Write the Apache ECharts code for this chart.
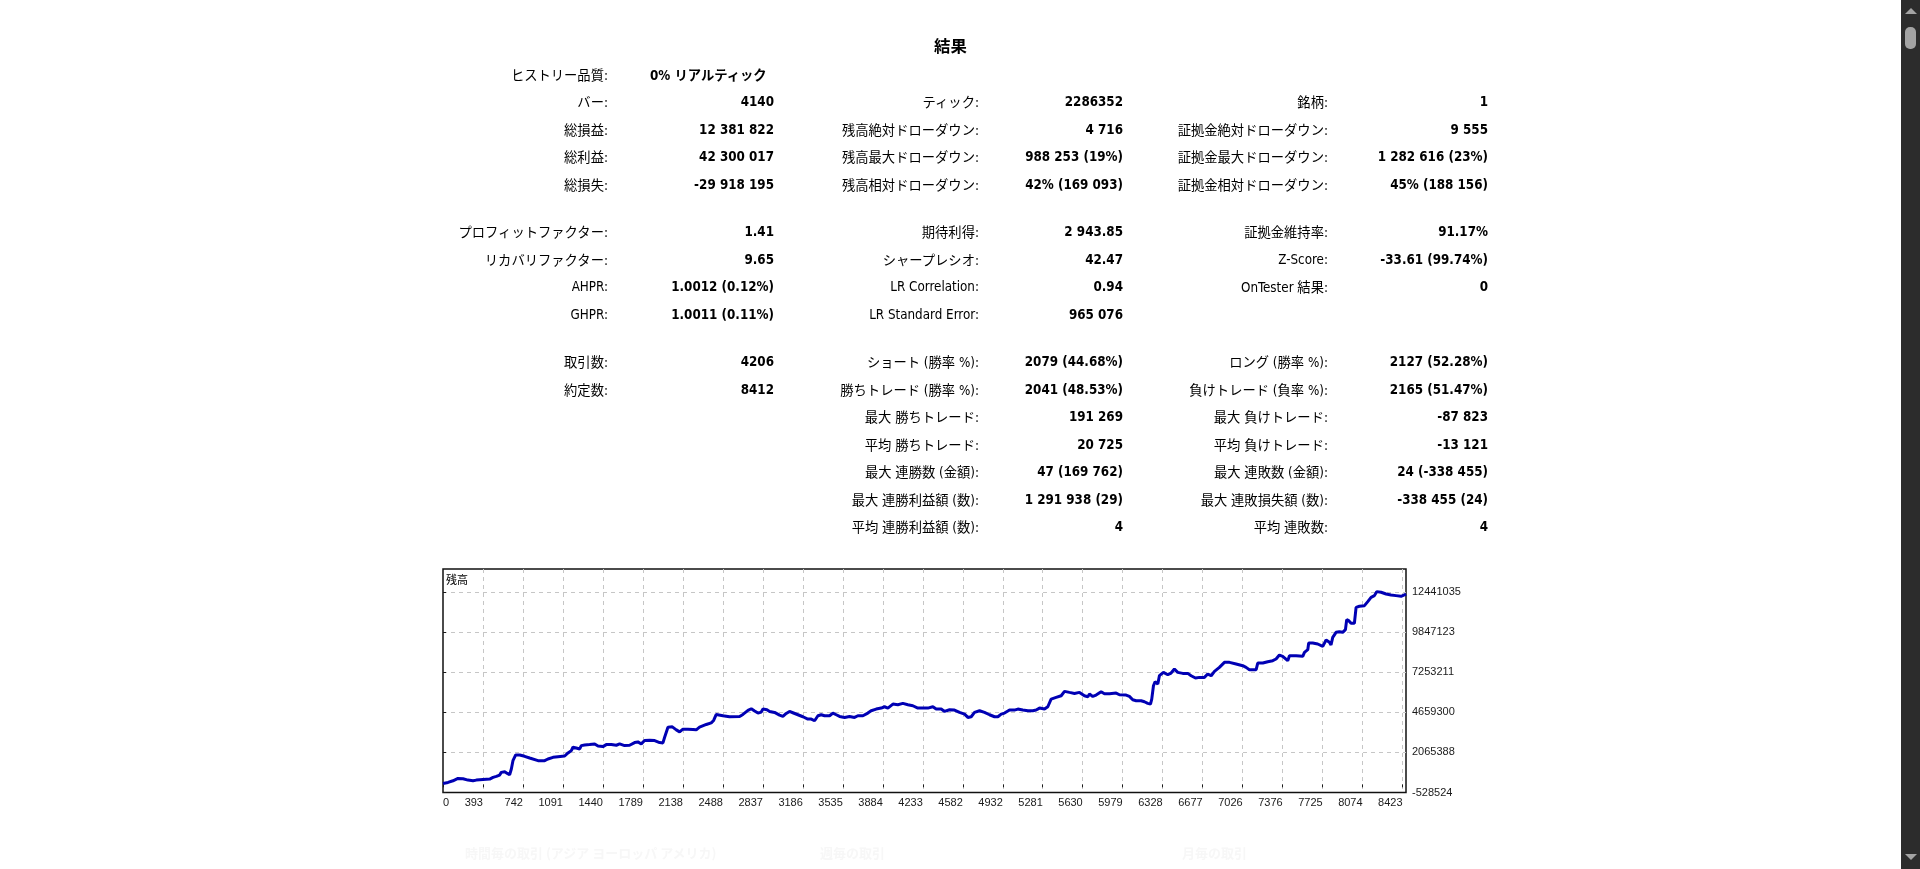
<!DOCTYPE html>
<html>
<head>
<meta charset="utf-8">
<title>結果</title>
<script src="https://cdn.jsdelivr.net/npm/echarts@6.0.0/dist/echarts.min.js"></script>
<style>
    html, body {
        margin: 0;
        padding: 0;
        background: #fff;
        overflow: hidden;
        width: 1920px;
        height: 869px;
        font-family: 'DejaVu Sans Condensed', 'DejaVu Sans', 'Noto Sans CJK JP', sans-serif;
        font-size: 13.3px;
        color: #000;
    }
    #balance-chart {
        position: absolute;
        left: 0;
        top: 0;
        width: 1901px;
        height: 869px;
    }
    #report-title {
        position: absolute;
        left: 0;
        width: 1901px;
        top: 34px;
        text-align: center;
        font-size: 16.4px;
        font-weight: bold;
        font-family: 'Noto Sans CJK JP', sans-serif;
        line-height: 22px;
    }
    #report {
        position: absolute;
        left: 420px;
        top: 60.5px;
        border-collapse: collapse;
        border-spacing: 0;
        table-layout: fixed;
    }
    #report td {
        padding: 0;
        height: 27.5px;
        text-align: right;
        white-space: nowrap;
        vertical-align: middle;
        font-family: 'DejaVu Sans Condensed', 'Noto Sans CJK JP', sans-serif;
    }
    #report td.v { font-weight: bold; }
    #report tr.gap td { height: 20px; }
    .faint {
        position: absolute;
        top: 843px;
        color: #f7f7f7;
        font-family: 'Noto Sans CJK JP', sans-serif;
        font-weight: bold;
        font-size: 13px;
    }
    #scrollbar {
        position: absolute;
        left: 1901px;
        top: 0;
        width: 19px;
        height: 869px;
        background: #2c2c2c;
    }
    #scrollbar .thumb {
        position: absolute;
        left: 4px;
        top: 27px;
        width: 11px;
        height: 22px;
        border-radius: 5px;
        background: #a3a3a3;
    }
    #scrollbar .up, #scrollbar .down {
        position: absolute;
        left: 4px;
        width: 0;
        height: 0;
        border-left: 6px solid transparent;
        border-right: 6px solid transparent;
    }
    #scrollbar .up { top: 8px; border-bottom: 6px solid #a3a3a3; }
    #scrollbar .down { top: 854px; border-top: 6px solid #a3a3a3; }
</style>
</head>
<body>
<div id="balance-chart"></div>
<div id="report-title">結果</div>
<table id="report">
    <colgroup>
        <col style="width:188px"><col style="width:166px"><col style="width:205px">
        <col style="width:144px"><col style="width:205px"><col style="width:160px">
    </colgroup>
    <tbody id="report-body"></tbody>
</table>
<div class="faint" style="left:465px">時間毎の取引 (アジア ヨーロッパ アメリカ)</div>
<div class="faint" style="left:820px">週毎の取引</div>
<div class="faint" style="left:1182px">月毎の取引</div>
<div id="scrollbar"><div class="up"></div><div class="thumb"></div><div class="down"></div></div>
<script>
// Report rows: [label, value] x 3 columns, null = spacer row
const reportRows = [
    [['ヒストリー品質:', '0% リアルティック'], ['', ''], ['', '']],
    [['バー:', '4140'], ['ティック:', '2286352'], ['銘柄:', '1']],
    [['総損益:', '12 381 822'], ['残高絶対ドローダウン:', '4 716'], ['証拠金絶対ドローダウン:', '9 555']],
    [['総利益:', '42 300 017'], ['残高最大ドローダウン:', '988 253 (19%)'], ['証拠金最大ドローダウン:', '1 282 616 (23%)']],
    [['総損失:', '-29 918 195'], ['残高相対ドローダウン:', '42% (169 093)'], ['証拠金相対ドローダウン:', '45% (188 156)']],
    null,
    [['プロフィットファクター:', '1.41'], ['期待利得:', '2 943.85'], ['証拠金維持率:', '91.17%']],
    [['リカバリファクター:', '9.65'], ['シャープレシオ:', '42.47'], ['Z-Score:', '-33.61 (99.74%)']],
    [['AHPR:', '1.0012 (0.12%)'], ['LR Correlation:', '0.94'], ['OnTester 結果:', '0']],
    [['GHPR:', '1.0011 (0.11%)'], ['LR Standard Error:', '965 076'], ['', '']],
    null,
    [['取引数:', '4206'], ['ショート (勝率 %):', '2079 (44.68%)'], ['ロング (勝率 %):', '2127 (52.28%)']],
    [['約定数:', '8412'], ['勝ちトレード (勝率 %):', '2041 (48.53%)'], ['負けトレード (負率 %):', '2165 (51.47%)']],
    [['', ''], ['最大 勝ちトレード:', '191 269'], ['最大 負けトレード:', '-87 823']],
    [['', ''], ['平均 勝ちトレード:', '20 725'], ['平均 負けトレード:', '-13 121']],
    [['', ''], ['最大 連勝数 (金額):', '47 (169 762)'], ['最大 連敗数 (金額):', '24 (-338 455)']],
    [['', ''], ['最大 連勝利益額 (数):', '1 291 938 (29)'], ['最大 連敗損失額 (数):', '-338 455 (24)']],
    [['', ''], ['平均 連勝利益額 (数):', '4'], ['平均 連敗数:', '4']]
];

const reportBody = document.getElementById('report-body');
reportRows.forEach(function(row) {
    const tr = document.createElement('tr');
    if (row === null) {
        tr.className = 'gap';
        tr.innerHTML = '<td colspan="6"></td>';
    } else {
        row.forEach(function(pair) {
            const l = document.createElement('td');
            l.textContent = pair[0];
            const v = document.createElement('td');
            v.className = 'v';
            v.textContent = pair[1];
            tr.appendChild(l);
            tr.appendChild(v);
        });
        // the quality value spills over to the left like in the report
        if (row[0][0] === 'ヒストリー品質:') {
            tr.children[1].style.textAlign = 'left';
            tr.children[1].style.paddingLeft = '42px';
        }
    }
    reportBody.appendChild(tr);
});

// Balance curve (deal number, balance)
const deals = [
    0, 44, 87, 131, 175, 218, 262, 291, 306, 408, 437, 466, 495, 509, 539, 562, 582, 597, 611, 635,
    670, 713, 757, 830, 888, 917, 961, 1004, 1063, 1092, 1121, 1135, 1164, 1194, 1208, 1237, 1281, 1325, 1354, 1397,
    1426, 1470, 1514, 1543, 1586, 1630, 1674, 1703, 1732, 1761, 1805, 1849, 1892, 1921, 1936, 1965, 2003, 2038, 2067, 2096,
    2140, 2183, 2212, 2241, 2300, 2343, 2364, 2387, 2445, 2503, 2591, 2620, 2664, 2693, 2722, 2751, 2780, 2795, 2830,
    2853, 2896, 2940, 2969, 2998, 3027, 3056, 3100, 3144, 3187, 3217, 3246, 3275, 3304, 3333, 3377, 3406, 3435, 3464, 3508,
    3551, 3595, 3624, 3668, 3711, 3740, 3784, 3828, 3857, 3886, 3930, 3973, 4017, 4061, 4104, 4148, 4192, 4235, 4279, 4308,
    4352, 4381, 4425, 4468, 4512, 4556, 4585, 4614, 4643, 4687, 4730, 4774, 4818, 4847, 4876, 4905, 4949, 4992, 5021, 5065,
    5109, 5152, 5181, 5211, 5254, 5283, 5312, 5356, 5400, 5429, 5472, 5516, 5560, 5603, 5633,
    5647, 5676, 5705, 5749, 5778, 5822, 5880, 5909, 5967, 5996, 6025, 6055, 6098, 6127, 6156, 6180, 6191, 6206, 6220, 6244,
    6258, 6293, 6331, 6360, 6389, 6418, 6462, 6506, 6535, 6573, 6608, 6651, 6680, 6710, 6739, 6782, 6826, 6841, 6870, 6928,
    6986, 7015, 7044, 7103, 7117, 7161, 7204, 7248, 7277, 7306, 7335, 7379, 7394, 7452, 7510, 7525, 7554, 7562, 7597, 7641,
    7685, 7714, 7743, 7757, 7772, 7801, 7830, 7859, 7883, 7894, 7912, 7932, 7961, 7976, 8005, 8049, 8078, 8107, 8136, 8156,
    8194, 8238, 8281, 8325, 8369, 8398, 8412
];
const balance = [
    58000, 123000, 231000, 383000, 361000, 275000, 231000, 275000, 340000, 340000, 448000, 513000, 600000, 774000, 817000, 709000, 622000, 991000, 1534000, 1903000,
    1903000, 1816000, 1707000, 1534000, 1534000, 1642000, 1751000, 1794000, 1837000, 2033000, 2185000, 2402000, 2358000, 2293000, 2510000, 2554000, 2575000, 2619000, 2489000, 2445000,
    2575000, 2575000, 2532000, 2619000, 2510000, 2532000, 2706000, 2749000, 2619000, 2836000, 2858000, 2836000, 2706000, 2684000, 3053000, 3704000, 3726000, 3530000, 3400000, 3574000,
    3574000, 3552000, 3530000, 3704000, 3878000, 3986000, 4138000, 4529000, 4442000, 4377000, 4399000, 4529000, 4789000, 4898000, 4746000, 4616000, 4681000, 4876000, 4833000,
    4724000, 4659000, 4486000, 4400000, 4594000, 4724000, 4638000, 4508000, 4378000, 4227000, 4227000, 4119000, 4443000, 4508000, 4443000, 4443000, 4616000, 4508000, 4400000, 4335000,
    4400000, 4335000, 4443000, 4443000, 4616000, 4767000, 4875000, 4940000, 5027000, 4940000, 5200000, 5156000, 5243000, 5156000, 5092000, 4940000, 4940000, 4940000, 5027000, 4875000,
    4875000, 4724000, 4832000, 4811000, 4659000, 4551000, 4335000, 4378000, 4659000, 4767000, 4659000, 4508000, 4378000, 4378000, 4551000, 4616000, 4811000, 4811000, 4875000, 4811000,
    4767000, 4767000, 4811000, 4940000, 4875000, 5027000, 5524000, 5632000, 5740000, 6021000, 5956000, 5891000, 5956000, 5740000, 5675000,
    5848000, 5697000, 5783000, 6000000, 5870000, 5870000, 5913000, 5805000, 5783000, 5697000, 5481000, 5416000, 5416000, 5351000, 5243000, 5200000, 5524000, 6389000, 6648000, 6497000,
    7037000, 7253000, 7102000, 7210000, 7469000, 7253000, 7188000, 7188000, 7037000, 6886000, 6929000, 6929000, 7145000, 7037000, 7318000, 7577000, 7902000, 8010000, 7902000, 7794000,
    7686000, 7577000, 7426000, 7426000, 7858000, 7858000, 7945000, 8010000, 8118000, 8377000, 8291000, 8010000, 8334000, 8334000, 8291000, 8550000, 8723000, 9155000, 9155000, 9091000,
    8939000, 9350000, 9199000, 9026000, 9523000, 9847000, 9890000, 9847000, 10020000, 10669000, 10604000, 10431000, 10431000, 11468000, 11533000, 11576000, 11836000, 12117000, 12225000, 12484000,
    12441000, 12333000, 12268000, 12225000, 12182000, 12268000, 12333000
];

// Axis tick labels as printed in the report
const xTickLabels = ['0', '393', '742', '1091', '1440', '1789', '2138', '2488', '2837', '3186', '3535', '3884',
    '4233', '4582', '4932', '5281', '5630', '5979', '6328', '6677', '7026', '7376', '7725', '8074', '8423'];
const yTickLabels = ['-528524', '2065388', '4659300', '7253211', '9847123', '12441035'];

const xMax = 8412;
const xStep = 349.26;
const yMin = -528524;
const yStep = 2593911.8;
const yMax = 13950000;

const balanceChart = echarts.init(document.getElementById('balance-chart'));
const balanceOption = {
    animation: false,
    title: {
        text: '残高',
        left: 446,
        top: 574,
        padding: 0,
        textStyle: {
            fontSize: 11,
            fontWeight: 'normal',
            color: '#000',
            fontFamily: 'Noto Sans CJK JP'
        }
    },
    grid: {
        left: 443,
        top: 569,
        width: 963,
        height: 223.5,
        show: true,
        borderColor: '#111',
        borderWidth: 1.5,
        backgroundColor: 'transparent'
    },
    xAxis: {
        type: 'value',
        min: 0,
        max: xMax,
        interval: xStep,
        axisLine: { show: false },
        axisTick: {
            show: true,
            length: 3,
            lineStyle: { color: '#1a1a1a' }
        },
        axisLabel: {
            color: '#1a1a1a',
            fontSize: 11,
            fontFamily: 'Liberation Sans',
            margin: 5,
            align: 'right',
            alignMinLabel: 'left',
            showMaxLabel: false,
            formatter: function(v) {
                const i = Math.round(v / xStep);
                if (Math.abs(v - i * xStep) > 1 || i >= xTickLabels.length) return '';
                return xTickLabels[i];
            }
        },
        splitLine: {
            show: true,
            showMinLine: false,
            showMaxLine: false,
            lineStyle: { color: '#c6c6c6', width: 1, type: [4, 4] }
        }
    },
    yAxis: {
        type: 'value',
        position: 'right',
        min: yMin,
        max: yMax,
        interval: yStep,
        axisLine: { show: false },
        axisTick: {
            show: true,
            length: 3,
            lineStyle: { color: '#1a1a1a' }
        },
        axisLabel: {
            color: '#1a1a1a',
            fontSize: 11,
            fontFamily: 'Liberation Sans',
            margin: 6,
            showMaxLabel: false,
            formatter: function(v) {
                const i = Math.round((v - yMin) / yStep);
                if (Math.abs(v - (yMin + i * yStep)) > 10 || i >= yTickLabels.length) return '';
                return yTickLabels[i];
            }
        },
        splitLine: {
            show: true,
            showMinLine: false,
            showMaxLine: false,
            lineStyle: { color: '#c6c6c6', width: 1, type: [4, 4] }
        }
    },
    series: [
        {
            name: '残高',
            type: 'line',
            symbol: 'none',
            lineStyle: {
                width: 3,
                color: '#0000b4'
            },
            data: deals.map(function(d, i) { return [d, balance[i]]; })
        }
    ]
};
balanceChart.setOption(balanceOption);
</script>
</body>
</html>
